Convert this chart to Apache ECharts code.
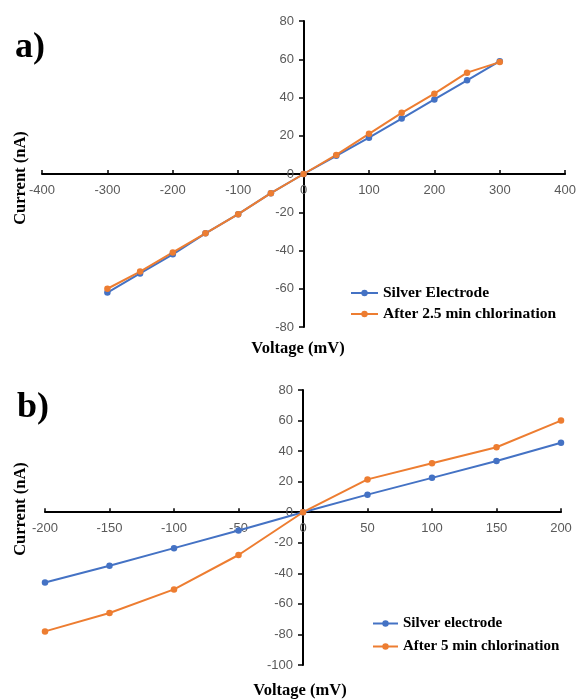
<!DOCTYPE html>
<html>
<head>
<meta charset="utf-8">
<script src="https://cdn.jsdelivr.net/npm/echarts@6/dist/echarts.min.js"></script>
<style>html,body{margin:0;padding:0;background:#fff;}#c{width:579px;height:700px;}</style>
</head>
<body>
<div id="c"></div>
<script>
// Panel a
const voltageA = [-300, -250, -200, -150, -100, -50, 0, 50, 100, 150, 200, 250, 300];
const silverA = [-62, -52, -42, -31, -21, -10, 0, 9.5, 19, 29, 39, 49, 59];
const chlor25A = [-60, -51, -41, -31, -21, -10, 0, 10, 21, 32, 42, 53, 58.5];
// Panel b
const voltageB = [-200, -150, -100, -50, 0, 50, 100, 150, 200];
const silverB = [-46, -35, -23.5, -12, 0, 11.5, 22.5, 33.5, 45.5];
const chlor5B = [-78, -66, -50.5, -28, 0, 21.5, 32, 42.5, 60];

const namesA = ['Silver Electrode', 'After 2.5 min chlorination'];
const namesB = ['Silver electrode', 'After 5 min chlorination'];

const BLUE = '#4472C4', ORANGE = '#ED7D31';
const pair = (xs, ys) => xs.map((x, i) => [x, ys[i]]);

const W = 579, H = 700;
const grids = [
  {left: 42, right: 13, top: 21, bottom: 373},
  {left: 45, right: 18, top: 390, bottom: 35}
];
const ranges = [
  {x: [-400, 400, 100], y: [-80, 80, 20]},
  {x: [-200, 200, 50], y: [-100, 80, 20]}
];

const tickFont = {color: '#595959', fontSize: 13, fontFamily: 'Liberation Sans, Arial, sans-serif'};
function xAx(gi) {
  const [min, max, iv] = ranges[gi].x;
  const [ymin, ymax] = ranges[gi].y;
  const g = grids[gi];
  const h = H - g.top - g.bottom;
  const off = -h * (0 - ymin) / (ymax - ymin);
  return {type: 'value', gridIndex: gi, min, max, interval: iv, position: 'bottom', offset: off,
    axisLine: {onZero: false, lineStyle: {color: '#000', width: 2}},
    axisTick: {show: true, inside: true, length: 4, lineStyle: {color: '#000', width: 1.5}},
    axisLabel: Object.assign({margin: 10, hideOverlap: false}, tickFont),
    splitLine: {show: false}};
}
function yAx(gi) {
  const [min, max, iv] = ranges[gi].y;
  const [xmin, xmax] = ranges[gi].x;
  const g = grids[gi];
  const w = W - g.left - g.right;
  const off = -w * (0 - xmin) / (xmax - xmin);
  return {type: 'value', gridIndex: gi, min, max, interval: iv, position: 'left', offset: off,
    axisLine: {onZero: false, lineStyle: {color: '#000', width: 2}},
    axisTick: {show: true, inside: false, length: 5, lineStyle: {color: '#000', width: 1.5}},
    axisLabel: Object.assign({margin: 10, hideOverlap: false}, tickFont),
    splitLine: {show: false}};
}
function ser(name, xi, data, color) {
  return {type: 'line', name, xAxisIndex: xi, yAxisIndex: xi, data,
    symbol: 'circle', symbolSize: 6.5, showSymbol: true,
    lineStyle: {color, width: 2}, itemStyle: {color}, animation: false};
}
const serif = 'Liberation Serif, Times New Roman, serif';
const legendTextA = {color: '#000', fontSize: 15.5, fontWeight: 'bold', fontFamily: serif};
const legendTextB = {color: '#000', fontSize: 15, fontWeight: 'bold', fontFamily: serif};

const chart = echarts.init(document.getElementById('c'), null, {renderer: 'canvas'});
chart.setOption({
  animation: false,
  backgroundColor: '#fff',
  grid: grids,
  xAxis: [xAx(0), xAx(1)],
  yAxis: [yAx(0), yAx(1)],
  legend: [
    {data: namesA, orient: 'vertical', left: 350, top: 285, padding: 0, itemWidth: 27, itemHeight: 8, itemGap: 5, textStyle: legendTextA},
    {data: namesB, orient: 'vertical', left: 372, top: 616, padding: 0, itemWidth: 25, itemHeight: 8, itemGap: 8, textStyle: legendTextB}
  ],
  series: [
    ser(namesA[0], 0, pair(voltageA, silverA), BLUE),
    ser(namesA[1], 0, pair(voltageA, chlor25A), ORANGE),
    ser(namesB[0], 1, pair(voltageB, silverB), BLUE),
    ser(namesB[1], 1, pair(voltageB, chlor5B), ORANGE)
  ],
  graphic: [
    {type: 'text', left: 15, top: 30, style: {text: 'a)', font: 'bold 36px ' + serif, fill: '#000'}},
    {type: 'text', left: 17, top: 390, style: {text: 'b)', font: 'bold 36px ' + serif, fill: '#000'}},
    {type: 'text', x: 21, y: 178, rotation: Math.PI / 2, style: {text: 'Current (nA)', font: 'bold 16.5px ' + serif, fill: '#000', align: 'center', verticalAlign: 'middle'}},
    {type: 'text', x: 21, y: 509, rotation: Math.PI / 2, style: {text: 'Current (nA)', font: 'bold 16.5px ' + serif, fill: '#000', align: 'center', verticalAlign: 'middle'}},
    {type: 'text', x: 298, y: 349, style: {text: 'Voltage (mV)', font: 'bold 16.5px ' + serif, fill: '#000', align: 'center', verticalAlign: 'middle'}},
    {type: 'text', x: 300, y: 691, style: {text: 'Voltage (mV)', font: 'bold 16.5px ' + serif, fill: '#000', align: 'center', verticalAlign: 'middle'}}
  ]
});
</script>
</body>
</html>
